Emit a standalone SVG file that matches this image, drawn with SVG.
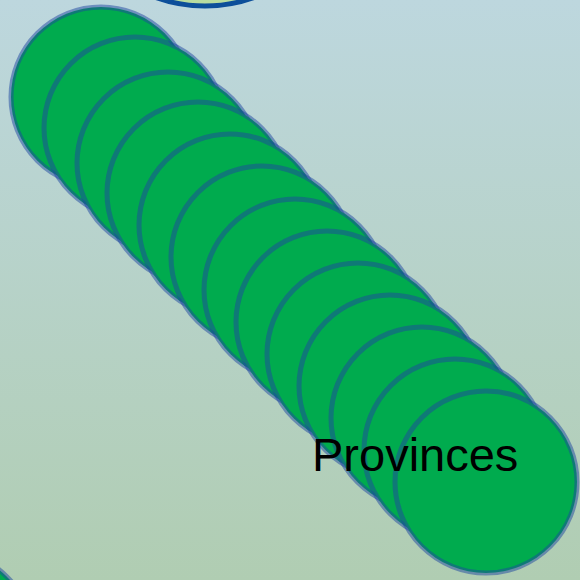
<svg xmlns="http://www.w3.org/2000/svg" width="580" height="580" viewBox="0 0 580 580">
<defs>
<linearGradient id="bg" x1="0" y1="0" x2="0" y2="1">
<stop offset="0" stop-color="#bdd7de"/>
<stop offset="1" stop-color="#b0cdb2"/>
</linearGradient>
</defs>
<style>
.c{fill:#00ab4e;stroke:#1e48a0;stroke-opacity:0.5;stroke-width:5}
.t{font-family:"Liberation Sans",Arial,sans-serif;font-size:47px;fill:#000}
</style>
<rect width="580" height="580" fill="url(#bg)"/>
<g id="top-node"><circle cx="205" cy="-140" r="146" fill="#b8dca0" stroke="#0d4f9a" stroke-width="5"/></g>
<g id="corner-node"><circle cx="-62" cy="645" r="97" class="c"/></g>
<g id="provinces">
<circle class="c" cx="101" cy="97" r="90"/>
<circle class="c" cx="135" cy="128" r="91"/>
<circle class="c" cx="168" cy="163" r="91"/>
<circle class="c" cx="198" cy="193" r="91"/>
<circle class="c" cx="230" cy="225" r="91"/>
<circle class="c" cx="262" cy="257" r="91"/>
<circle class="c" cx="295" cy="290" r="91"/>
<circle class="c" cx="327" cy="322" r="91"/>
<circle class="c" cx="358" cy="354" r="91"/>
<circle class="c" cx="390" cy="386" r="91"/>
<circle class="c" cx="422" cy="418" r="91"/>
<circle class="c" cx="455" cy="450" r="91"/>
<circle class="c" cx="486" cy="482" r="91"/>
<text class="t" x="312" y="471">Provinces</text>
</g>
</svg>
